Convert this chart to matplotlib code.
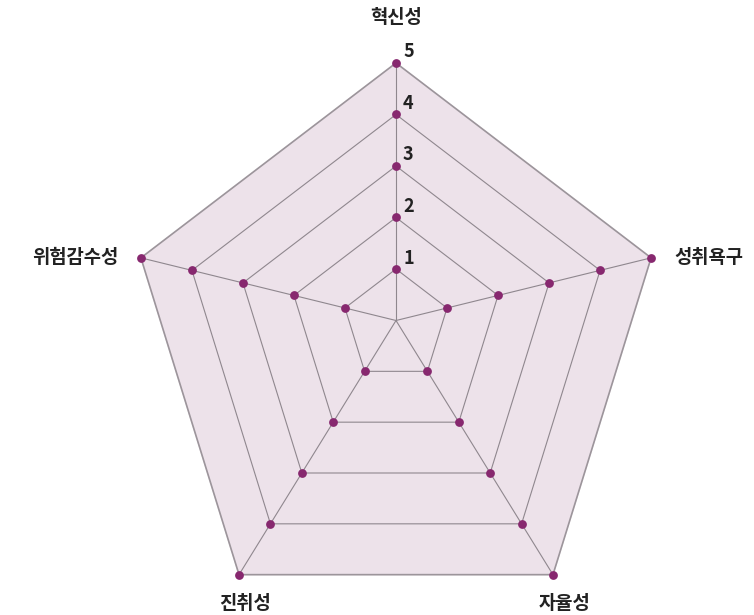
import numpy as np
import matplotlib.pyplot as plt

plt.rcParams['font.family'] = ['Noto Sans CJK KR', 'DejaVu Sans']

# data
categories = ['혁신성', '성취욕구', '자율성', '진취성', '위험감수성']
levels = [1, 2, 3, 4, 5]
tick_labels = ['1', '2', '3', '4', '5']

# layout of the (hand-drawn, slightly irregular) pentagon axes
axis_angle = np.deg2rad([90, 13.8, -58.3, -121.7, 166.2])
axis_len = np.array([1.0, 1.02, 1.16, 1.16, 1.02])

fill_col = '#ede2ea'
line_col = '#8f878e'
dot_col = '#87286f'

def polygon(r):
    x = r * axis_len * np.cos(axis_angle)
    y = r * axis_len * np.sin(axis_angle)
    return x, y

fig = plt.figure(figsize=(7.54, 6.15), dpi=100)
ax = fig.add_axes([0, 0, 1, 1])
ax.set_xlim(-7.689, 6.951)
ax.set_ylim(-5.718, 6.223)
ax.axis('off')

rmax = max(levels)
xo, yo = polygon(rmax)
ax.fill(xo, yo, color=fill_col, zorder=1)

# spokes
for i in range(len(categories)):
    ax.plot([0, xo[i]], [0, yo[i]], color=line_col, lw=0.8, zorder=2)

# rings with dots
for r in levels:
    x, y = polygon(r)
    lw = 1.2 if r == rmax else 0.8
    col = '#9c959b' if r == rmax else line_col
    ax.plot(np.append(x, x[0]), np.append(y, y[0]), color=col, lw=lw, zorder=2)
    ax.scatter(x, y, s=40, color=dot_col, zorder=3, linewidths=0)

# value labels on the top axis
for r, t in zip(levels, tick_labels):
    x, y = polygon(r)
    ax.annotate(t, (x[0], y[0]), xytext=(7, 11), textcoords='offset pixels',
                ha='left', va='center', fontsize=13, fontweight='bold', color='#222222')

# category labels
offsets = [(0, 45), (23, 0), (12, -29), (6, -29), (-23, 0)]
aligns = ['center', 'left', 'center', 'center', 'right']
for i, name in enumerate(categories):
    ax.annotate(name, (xo[i], yo[i]), xytext=offsets[i], textcoords='offset pixels',
                ha=aligns[i], va='center', fontsize=13.5, fontweight='bold', color='#222222')

fig.savefig('out.png', dpi=100, facecolor='white')
